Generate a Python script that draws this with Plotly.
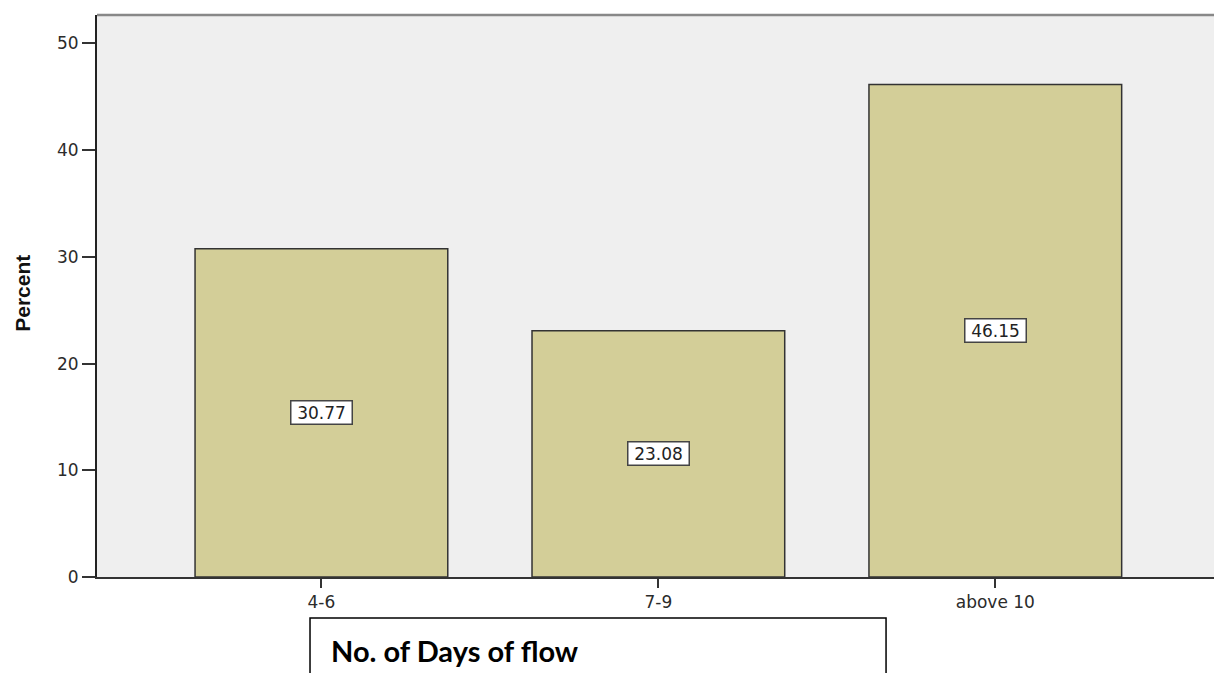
import plotly.graph_objects as go

# Distribution of respondents by number of days of flow
categories = ["4-6", "7-9", "above 10"]
percents = [30.77, 23.08, 46.15]
y_ticks = [0, 10, 20, 30, 40, 50]

BAR_FILL = "#D3CE98"
PLOT_BG = "#EFEFEF"
TICK_FONT = dict(family="DejaVu Sans, Verdana, sans-serif", size=17, color="#2B2B2B")

fig = go.Figure()

fig.add_trace(go.Bar(
    x=categories,
    y=percents,
    width=0.75,
    marker=dict(color=BAR_FILL, line=dict(color="#333333", width=1.5)),
    hoverinfo="x+y",
    showlegend=False,
))

# Value boxes at half the bar height
for cat, val in zip(categories, percents):
    fig.add_annotation(
        x=cat, y=val / 2, xref="x", yref="y",
        text=f"{val:.2f}",
        showarrow=False,
        font=dict(family="DejaVu Sans, Verdana, sans-serif", size=17, color="#222222"),
        bgcolor="#FFFFFF",
        bordercolor="#444444",
        borderwidth=1.5,
        borderpad=1,
        width=58,
        height=20,
    )

# Rotated y-axis title
fig.add_annotation(
    x=-0.0662, y=0.504, xref="paper", yref="paper",
    text="<b>Percent</b>",
    textangle=-90,
    showarrow=False,
    font=dict(family="Liberation Sans, Arial, sans-serif", size=21, color="#111111"),
    xanchor="center", yanchor="middle",
)

# Boxed x-axis caption below the chart
fig.add_shape(
    type="rect", xref="paper", yref="paper",
    x0=0.1907, x1=0.7064, y0=-0.25, y1=-0.073,
    line=dict(color="#000000", width=1.5),
    fillcolor="#FFFFFF",
    layer="above",
)
fig.add_annotation(
    x=0.2078, y=-0.131, xref="paper", yref="paper",
    text="<b>No. of Days of flow</b>",
    showarrow=False,
    font=dict(family="Lato, Carlito, Calibri, sans-serif", size=29, color="#000000"),
    xanchor="left", yanchor="middle",
)

# Grey frame line along the top of the plot area
fig.add_shape(
    type="line", xref="paper", yref="paper",
    x0=0, x1=1, y0=1, y1=1,
    line=dict(color="#888888", width=2.5),
    layer="above",
)

fig.update_layout(
    width=1214,
    height=673,
    margin=dict(l=97, r=0, t=15, b=96),
    paper_bgcolor="#FFFFFF",
    plot_bgcolor=PLOT_BG,
    bargap=0.25,
    xaxis=dict(
        range=[-0.666, 2.649],
        showgrid=False,
        zeroline=False,
        showline=True,
        linecolor="#333333",
        linewidth=1.5,
        ticks="outside",
        ticklen=9,
        tickwidth=1.5,
        tickcolor="#333333",
        tickfont=TICK_FONT,
        fixedrange=True,
    ),
    yaxis=dict(
        range=[0, 52.67],
        tickvals=y_ticks,
        showgrid=False,
        zeroline=False,
        showline=True,
        linecolor="#222222",
        linewidth=2,
        ticks="outside",
        ticklen=13,
        tickwidth=1.5,
        tickcolor="#333333",
        tickfont=TICK_FONT,
        fixedrange=True,
    ),
)

fig.write_html("out.html")
